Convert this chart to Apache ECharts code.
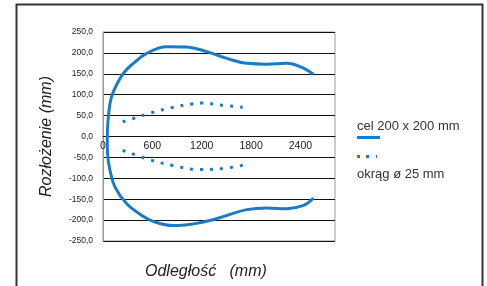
<!DOCTYPE html>
<html>
<head>
<meta charset="utf-8">
<script src="https://cdn.jsdelivr.net/npm/echarts@6/dist/echarts.min.js"></script>
<style>
  html, body { margin: 0; padding: 0; background: #fff; }
  #chart { width: 487px; height: 286px; }
</style>
</head>
<body>
<div id="chart"></div>
<script>
// cel 200 x 200 mm - one outline, from top right round the left side to bottom right
const celX = [2558, 2396, 2234, 1991, 1747, 1504, 1261, 1018, 774, 531, 369, 247, 125, 85, 58, 52, 55, 85, 146, 288, 450, 612, 855, 1098, 1301, 1504, 1747, 1991, 2234, 2436, 2558];
const celY = [149, 167, 175, 173, 175, 187, 203, 214, 215, 199, 175, 151, 107, 79, 30, -5, -40, -81, -121, -161, -186, -203, -213, -209, -201, -189, -175, -171, -173, -165, -147];

// okrąg ø 25 mm - upper and lower arcs
const okragTopX = [239, 369, 592, 835, 1079, 1200, 1443, 1699];
const okragTopY = [35, 43, 57, 69, 78, 80, 75, 70];
const okragBottomX = [239, 592, 835, 1179, 1443, 1699];
const okragBottomY = [-33, -57, -69, -79, -77, -69];

const xLabels = ['0', '600', '1200', '1800', '2400'];
const seriesNames = ['cel 200 x 200 mm', 'okrąg ø 25 mm'];

const blue = '#1b7bc4';
const zip = (xs, ys) => xs.map((x, i) => [x, ys[i]]);

const gridTop = 32, gridBottom = 45, chartH = 286;
// x axis sits on the 0 line, halfway down the plot
const zeroOffset = -(chartH - gridTop - gridBottom) / 2;

const chart = echarts.init(document.getElementById('chart'));
chart.setOption({
  animation: false,
  textStyle: { fontFamily: 'Liberation Sans, Arial, sans-serif' },
  grid: { left: 103, right: 152, top: gridTop, bottom: gridBottom, show: true, borderColor: '#999', borderWidth: 1 },
  xAxis: {
    type: 'value',
    min: 0,
    max: 2820,
    interval: 600,
    position: 'bottom',
    offset: zeroOffset,
    axisLine: { show: true, onZero: false, lineStyle: { color: '#111', width: 1 } },
    axisTick: { show: false },
    splitLine: { show: false },
    axisLabel: {
      showMaxLabel: false,
      fontSize: 10.5,
      color: '#222',
      margin: 4,
      formatter: v => xLabels[Math.round(v / 600)] || ''
    }
  },
  yAxis: {
    type: 'value',
    min: -250,
    max: 250,
    interval: 50,
    name: 'Rozłożenie (mm)',
    nameLocation: 'middle',
    nameGap: 48,
    nameTextStyle: { fontSize: 16, fontStyle: 'italic', color: '#222' },
    axisLine: { show: true, lineStyle: { color: '#999' } },
    axisTick: { show: false },
    splitLine: { lineStyle: { color: '#111', width: 1 } },
    axisLabel: {
      fontSize: 8.5,
      color: '#222',
      margin: 10,
      formatter: v => v.toFixed(1).replace('.', ',')
    }
  },
  title: {
    text: 'Odległość   (mm)',
    left: 140,
    top: 259,
    textStyle: { fontSize: 16, fontStyle: 'italic', fontWeight: 'normal', color: '#222' }
  },
  legend: [
    {
      // line samples
      data: [
        { name: seriesNames[0], icon: 'path://M0,0H23V3H0Z' },
        { name: seriesNames[1], icon: 'path://M0,0H3V3H0Z M9,0H12V3H9Z M19,0H20V3H19Z M22,0H23V0.1H22Z' }
      ],
      orient: 'vertical',
      left: 352,
      top: 131,
      itemWidth: 23,
      itemHeight: 3,
      itemGap: 16,
      formatter: () => ''
    },
    {
      // legend texts, above the samples
      data: seriesNames,
      orient: 'vertical',
      left: 347,
      top: 114,
      icon: 'none',
      itemWidth: 0,
      itemHeight: 14,
      itemGap: 35,
      textStyle: { fontSize: 13, color: '#333' }
    }
  ],
  graphic: [
    {
      type: 'rect',
      shape: { x: 16.5, y: 4.5, width: 466, height: 300 },
      style: { fill: 'none', stroke: '#333', lineWidth: 2 },
      silent: true
    }
  ],
  series: [
    {
      name: seriesNames[0],
      type: 'line',
      data: zip(celX, celY),
      smooth: 0.4,
      showSymbol: false,
      symbol: 'none',
      lineStyle: { color: blue, width: 3 },
      itemStyle: { color: blue }
    },
    {
      name: seriesNames[1],
      type: 'line',
      data: zip(okragTopX, okragTopY),
      smooth: 0.4,
      symbol: 'none',
      lineStyle: { color: blue, width: 3, type: [3, 7] },
      itemStyle: { color: blue }
    },
    {
      name: seriesNames[1],
      type: 'line',
      data: zip(okragBottomX, okragBottomY),
      smooth: 0.4,
      symbol: 'none',
      lineStyle: { color: blue, width: 3, type: [3, 7] },
      itemStyle: { color: blue }
    }
  ]
});
</script>
</body>
</html>
